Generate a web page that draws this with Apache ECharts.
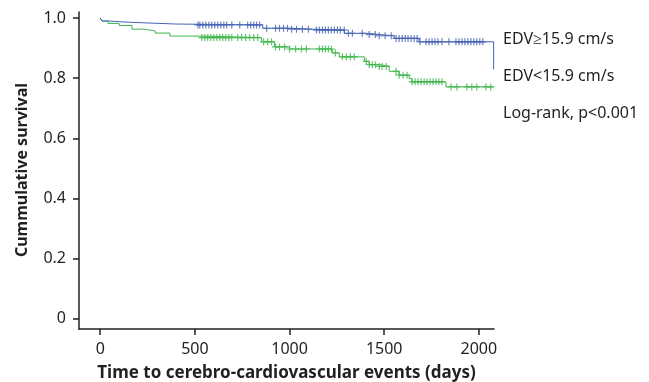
<!DOCTYPE html>
<html>
<head>
<meta charset="utf-8">
<script src="https://cdn.jsdelivr.net/npm/echarts@6/dist/echarts.min.js"></script>
<style>
  html, body { margin: 0; padding: 0; background: #fff; }
  #chart { width: 649px; height: 382px; }
</style>
</head>
<body>
<div id="chart"></div>
<script>
// Kaplan-Meier steps: [days, survival]
const highEdvSteps = [
    [0, 1.0], [10, 0.99], [42, 0.986], [150, 0.983], [274, 0.98], [400, 0.977],
    [858, 0.966], [1000, 0.963], [1105, 0.96], [1290, 0.949], [1420, 0.945],
    [1474, 0.941], [1553, 0.932], [1684, 0.921], [2078, 0.829]
];
const lowEdvSteps = [
    [0, 1.0], [10, 0.99], [42, 0.982], [100, 0.975], [168, 0.963], [230, 0.957],
    [290, 0.95], [368, 0.94], [520, 0.935], [853, 0.921], [921, 0.904], [1000, 0.897],
    [1226, 0.884], [1263, 0.871], [1395, 0.856], [1421, 0.845], [1474, 0.839],
    [1526, 0.823], [1579, 0.81], [1632, 0.799], [1647, 0.788], [1826, 0.771], [2078, 0.771]
];

// censored observations (days)
const highEdvCensored = [
    516, 526, 542, 558, 574, 589, 605, 621, 637, 653, 668, 695, 737, 779, 795, 811, 826, 842,
    879, 926, 947, 968, 989, 1011, 1037, 1068, 1100, 1142, 1158, 1174, 1189, 1205, 1221, 1237,
    1253, 1268, 1289, 1311, 1332, 1384, 1421, 1453, 1474, 1505, 1537, 1563, 1579, 1595, 1611,
    1626, 1642, 1658, 1674, 1689, 1721, 1737, 1753, 1768, 1784, 1805, 1842, 1879, 1895, 1911,
    1926, 1942, 1958, 1974, 1989, 2005, 2021
];
const lowEdvCensored = [
    537, 553, 568, 584, 600, 616, 632, 647, 663, 679, 695, 726, 747, 768, 789, 811, 832, 863,
    884, 905, 926, 947, 974, 1000, 1032, 1063, 1089, 1158, 1174, 1189, 1205, 1221, 1242, 1279,
    1300, 1321, 1342, 1405, 1421, 1437, 1453, 1474, 1489, 1511, 1563, 1579, 1600, 1621, 1647,
    1663, 1679, 1695, 1711, 1726, 1742, 1758, 1774, 1789, 1805, 1853, 1884, 1937, 1963, 1989,
    2037, 2063
];

const xTicks = [0, 500, 1000, 1500, 2000];
const yTicks = [0, 0.2, 0.4, 0.6, 0.8, 1.0];
const legendLabels = ['EDV\u226515.9 cm/s', 'EDV<15.9 cm/s', 'Log-rank, p<0.001'];
const xTitle = 'Time to cerebro-cardiovascular events (days)';
const yTitle = 'Cummulative survival';

const blue = '#4562b3';
const green = '#3fb54b';
const ink = '#231f20';
const font = 'Noto Sans';

// survival value in effect at time t
const survivalAt = (steps, t) => {
    let v = steps[0][1];
    for (let i = 0; i < steps.length; i++) {
        if (steps[i][0] <= t) v = steps[i][1];
    }
    return v;
};

const plusMark = 'path://M5,0 L5,10 M0,5 L10,5';

const chart = echarts.init(document.getElementById('chart'), null, {renderer: 'canvas'});

chart.setOption({
    animation: false,
    grid: {
        left: 79,
        right: 155,
        top: 12,
        bottom: 53,
        outerBoundsMode: 'none'
    },
    xAxis: {
        type: 'value',
        min: -112,
        max: 2080,
        name: xTitle,
        nameLocation: 'middle',
        nameGap: 36,
        nameTextStyle: {fontFamily: font, fontSize: 17, fontWeight: 'bold', color: ink},
        axisLine: {show: true, onZero: false, lineStyle: {color: ink, width: 1.5}},
        axisTick: {show: true, customValues: xTicks, length: 6, lineStyle: {color: ink, width: 1.5}},
        axisLabel: {
            customValues: xTicks, fontFamily: font, fontSize: 16, color: ink, margin: 12,
            formatter: v => String(v)
        },
        splitLine: {show: false}
    },
    yAxis: {
        type: 'value',
        min: -0.034,
        max: 1.02,
        axisLine: {show: true, onZero: false, lineStyle: {color: ink, width: 1.5}},
        axisTick: {show: true, customValues: yTicks, length: 6, lineStyle: {color: ink, width: 1.5}},
        axisLabel: {
            customValues: yTicks,
            fontFamily: font, fontSize: 16, color: ink, margin: 13,
            formatter: v => (v === 0 ? '0' : v.toFixed(1))
        },
        splitLine: {show: false}
    },
    series: [
        {
            name: legendLabels[0],
            type: 'line',
            step: 'end',
            data: highEdvSteps,
            showSymbol: false,
            lineStyle: {color: blue, width: 1},
            z: 3
        },
        {
            name: legendLabels[1],
            type: 'line',
            step: 'end',
            data: lowEdvSteps,
            showSymbol: false,
            lineStyle: {color: green, width: 1},
            z: 2
        },
        {
            type: 'scatter',
            data: highEdvCensored.map(t => [t, survivalAt(highEdvSteps, t)]),
            symbol: plusMark,
            symbolSize: 7,
            itemStyle: {color: 'none', borderColor: blue, borderWidth: 1.2},
            z: 3
        },
        {
            type: 'scatter',
            data: lowEdvCensored.map(t => [t, survivalAt(lowEdvSteps, t)]),
            symbol: plusMark,
            symbolSize: 7,
            itemStyle: {color: 'none', borderColor: green, borderWidth: 1.2},
            z: 2
        }
    ],
    graphic: legendLabels.map((label, i) => ({
        type: 'text',
        left: 503,
        top: 31 + i * 37,
        style: {text: label, fontFamily: font, fontSize: 16, fill: ink}
    })).concat([{
        type: 'text',
        x: 22,
        y: 170,
        rotation: Math.PI / 2,
        style: {
            text: yTitle, fontFamily: font, fontSize: 16, fontWeight: 'bold', fill: ink,
            align: 'center', verticalAlign: 'middle'
        }
    }])
});
</script>
</body>
</html>
